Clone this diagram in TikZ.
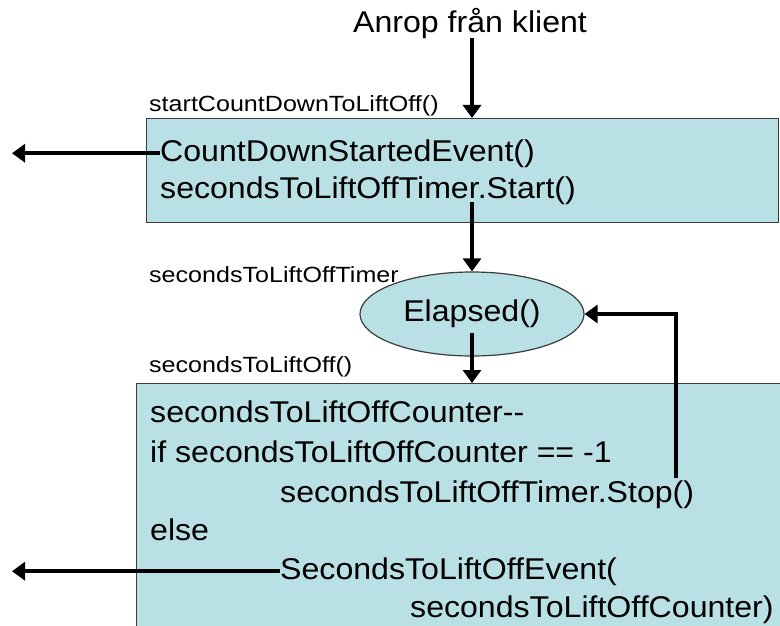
\documentclass[tikz,border=0pt]{standalone}
\usepackage{fontspec}
\setmainfont{Liberation Sans}
\newfontfamily\mainf[FakeStretch=1.07]{Liberation Sans}
\newfontfamily\labf[FakeStretch=1.14]{Liberation Sans}
\usetikzlibrary{arrows.meta,shapes.geometric}
\definecolor{boxfill}{RGB}{185,224,228}
\definecolor{boxline}{RGB}{60,60,60}
\begin{document}
\begin{tikzpicture}[x=1pt,y=-1pt,
 txt/.style={inner sep=0pt,anchor=base west,font=\mainf\fontsize{30}{30}\selectfont},
 lab/.style={inner sep=0pt,anchor=base west,font=\labf\fontsize{22}{22}\selectfont},
 flow/.style={line width=4pt,-{Triangle[length=13pt,width=18pt]}},
 boxst/.style={draw=boxline,line width=1.2pt,fill=boxfill}]
\clip (0,0) rectangle (780,626);
\fill[white] (0,0) rectangle (780,626);
% boxes
\node[boxst,anchor=north west,minimum width=632pt,minimum height=104pt,inner sep=0pt] (box1) at (146,118) {};
\node[boxst,anchor=north west,minimum width=660pt,minimum height=260pt,inner sep=0pt] (box2) at (136,383) {};
\node[boxst,ellipse,minimum width=224pt,minimum height=84pt,inner sep=0pt,font=\mainf\fontsize{30}{30}\selectfont] (el) at (472,314) {Elapsed()};
% texts
\node[txt] (title) at (353,33) {Anrop från klient};
\node[lab] (lab1) at (149,111) {startCountDownToLiftOff()};
\node[lab] (lab2) at (149,282) {secondsToLiftOffTimer};
\node[lab] (lab3) at (149,372) {secondsToLiftOff()};
\node[txt] (ev1) at (160,161) {CountDownStartedEvent()};
\node[txt] (st1) at (160,198) {secondsToLiftOffTimer.Start()};
\node[txt] (b1) at (150,422) {secondsToLiftOffCounter-{}-};
\node[txt] (b2) at (150,462) {if secondsToLiftOffCounter == -1};
\node[txt] (b3) at (280,502) {secondsToLiftOffTimer.Stop()};
\node[txt] (b4) at (150,540) {else};
\node[txt] (b5) at (280,579) {SecondsToLiftOffEvent(};
\node[txt] (b6) at (410,617) {secondsToLiftOffCounter)};
% connectors
\coordinate (topin) at (472,38);
\coordinate (c2) at (472,202);
\coordinate (c3) at (472,333);
\coordinate (fb) at (676,478);
\coordinate (lend) at (12,0);
\draw[flow] (topin) -- (topin |- box1.north);
\draw[flow] (c2) -- (c2 |- el.north);
\draw[flow] (c3) -- (c3 |- box2.north);
\draw[flow] (fb) -- (fb |- el.east) -- (el.east);
\draw[flow] (ev1.west) -- (ev1.west -| lend);
\draw[flow] (b5.west) -- (b5.west -| lend);
\end{tikzpicture}
\end{document}
